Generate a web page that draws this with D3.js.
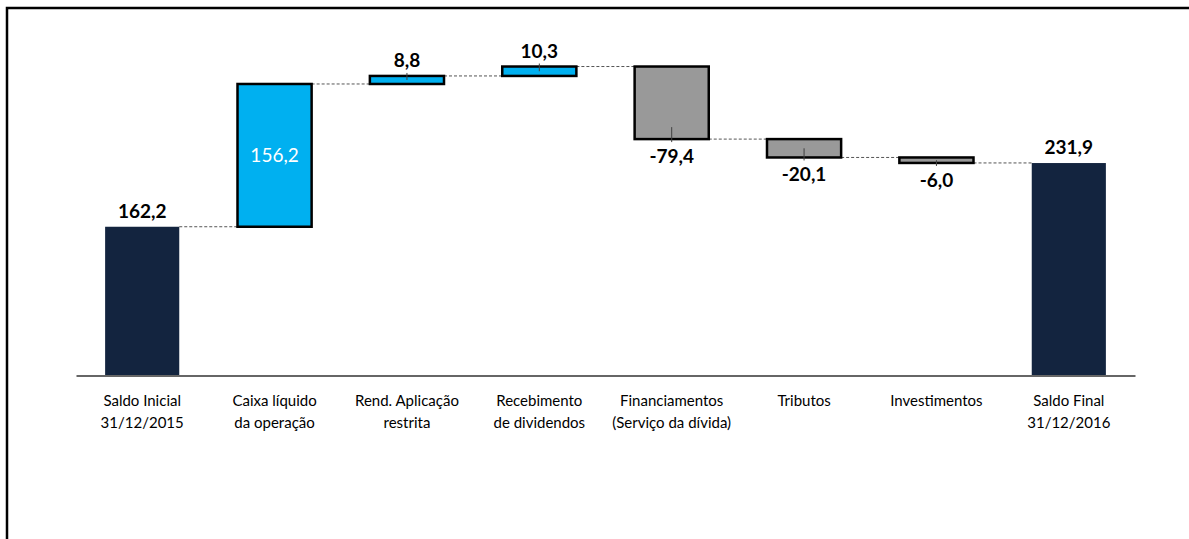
<!DOCTYPE html>
<html>
<head>
<meta charset="utf-8">
<script src="https://cdnjs.cloudflare.com/ajax/libs/d3/7.8.5/d3.min.js"></script>
<style>
  body { margin: 0; background: #fff; }
  .chart text { font-family: Lato, "Open Sans", sans-serif; }
</style>
</head>
<body>
<div class="chart"></div>
<script>
// Chart data
var categories = [
  ["Saldo Inicial", "31/12/2015"],
  ["Caixa líquido", "da operação"],
  ["Rend. Aplicação", "restrita"],
  ["Recebimento", "de dividendos"],
  ["Financiamentos", "(Serviço da dívida)"],
  ["Tributos"],
  ["Investimentos"],
  ["Saldo Final", "31/12/2016"]
];
var values = [162.2, 156.2, 8.8, 10.3, -79.4, -20.1, -6.0, 231.9];
var kinds = ["total", "delta", "delta", "delta", "delta", "delta", "delta", "total"];

// SVG area
var svgWidth = 1189;
var svgHeight = 539;

var margin = { left: 76, right: 54, baseline: 375 };

var svg = d3.select(".chart")
  .append("svg")
  .attr("width", svgWidth)
  .attr("height", svgHeight);

// outer frame (only top and left edges visible)
svg.append("path")
  .attr("d", "M7,539 V8 H1189")
  .attr("fill", "none")
  .attr("stroke", "#000")
  .attr("stroke-width", 2.5);

var fmt = d3.formatLocale({ decimal: ",", thousands: ".", grouping: [3], currency: ["", ""], minus: "-" }).format(".1f");

// build waterfall steps
var running = 0;
var steps = values.map(function(v, i) {
  var s;
  if (kinds[i] === "total") {
    s = { start: 0, end: v };
    running = v;
  } else {
    s = { start: running, end: running + v };
    running += v;
  }
  s.value = v;
  s.kind = kinds[i];
  s.index = i;
  return s;
});

var xBand = d3.scaleBand()
  .domain(d3.range(categories.length))
  .range([margin.left, svgWidth - margin.right])
  .paddingInner(0.44)
  .paddingOuter(0.22);

var yLinearScale = d3.scaleLinear()
  .domain([0, 250])
  .range([margin.baseline, margin.baseline - 250 * 0.914]);

var fillFor = function(d) {
  if (d.kind === "total") return "#13243f";
  return d.value >= 0 ? "#00b0f0" : "#999999";
};

// connectors
var chart = svg.append("g");
steps.slice(0, -1).forEach(function(d, i) {
  var level = yLinearScale(d.end);
  chart.append("line")
    .attr("x1", xBand(i) + xBand.bandwidth())
    .attr("x2", xBand(i + 1))
    .attr("y1", level)
    .attr("y2", level)
    .attr("stroke", "#555")
    .attr("stroke-width", 1)
    .attr("stroke-dasharray", "3,2");
});

// bars
chart.selectAll("rect.bar")
  .data(steps)
  .enter().append("rect")
  .attr("class", "bar")
  .attr("x", function(d) { return xBand(d.index); })
  .attr("width", xBand.bandwidth())
  .attr("y", function(d) { return yLinearScale(Math.max(d.start, d.end)); })
  .attr("height", function(d) { return Math.abs(yLinearScale(d.start) - yLinearScale(d.end)); })
  .attr("fill", fillFor)
  .attr("stroke", function(d) { return d.kind === "total" ? "none" : "#000"; })
  .attr("stroke-width", 2.5);

// small leader ticks on delta bars
steps.filter(function(d) { return d.kind === "delta" && d.index !== 1; }).forEach(function(d) {
  var cx = xBand(d.index) + xBand.bandwidth() / 2;
  var h = Math.abs(yLinearScale(d.start) - yLinearScale(d.end));
  var inner = Math.min(12, h / 2);
  var edge = yLinearScale(d.end);
  var y1, y2;
  if (d.value >= 0) {
    y1 = edge - 3; y2 = edge + inner;
  } else {
    y1 = edge - inner; y2 = edge + 3;
  }
  chart.append("line")
    .attr("x1", cx).attr("x2", cx)
    .attr("y1", y1).attr("y2", y2)
    .attr("stroke", "#404040")
    .attr("stroke-width", 1);
});

// value labels
steps.forEach(function(d) {
  var cx = xBand(d.index) + xBand.bandwidth() / 2;
  var t = chart.append("text")
    .attr("x", cx)
    .attr("text-anchor", "middle")
    .style("font-size", "19px")
    .text(fmt(d.value));
  if (d.index === 1) {
    t.attr("y", (yLinearScale(d.start) + yLinearScale(d.end)) / 2 + 7)
      .attr("fill", "#fff");
  } else if (d.value >= 0) {
    t.attr("y", yLinearScale(Math.max(d.start, d.end)) - 9)
      .attr("fill", "#000")
      .style("font-weight", "bold");
  } else {
    t.attr("y", yLinearScale(d.end) + 24)
      .attr("fill", "#000")
      .style("font-weight", "bold");
  }
});

// x axis
var bottomAxis = d3.axisBottom(xBand).tickSize(0).tickSizeOuter(0).tickFormat("");
var axisG = svg.append("g")
  .attr("transform", "translate(0," + (margin.baseline + 0.5) + ")")
  .call(bottomAxis);
axisG.select(".domain").attr("stroke", "#333").attr("stroke-width", 1.5);

axisG.selectAll(".tick").each(function(i) {
  var t = d3.select(this).append("text")
    .attr("text-anchor", "middle")
    .attr("fill", "#000")
    .style("font-size", "15px");
  categories[i].forEach(function(line, j) {
    t.append("tspan")
      .attr("x", 0)
      .attr("y", 30 + j * 22)
      .text(line);
  });
});
</script>
</body>
</html>
